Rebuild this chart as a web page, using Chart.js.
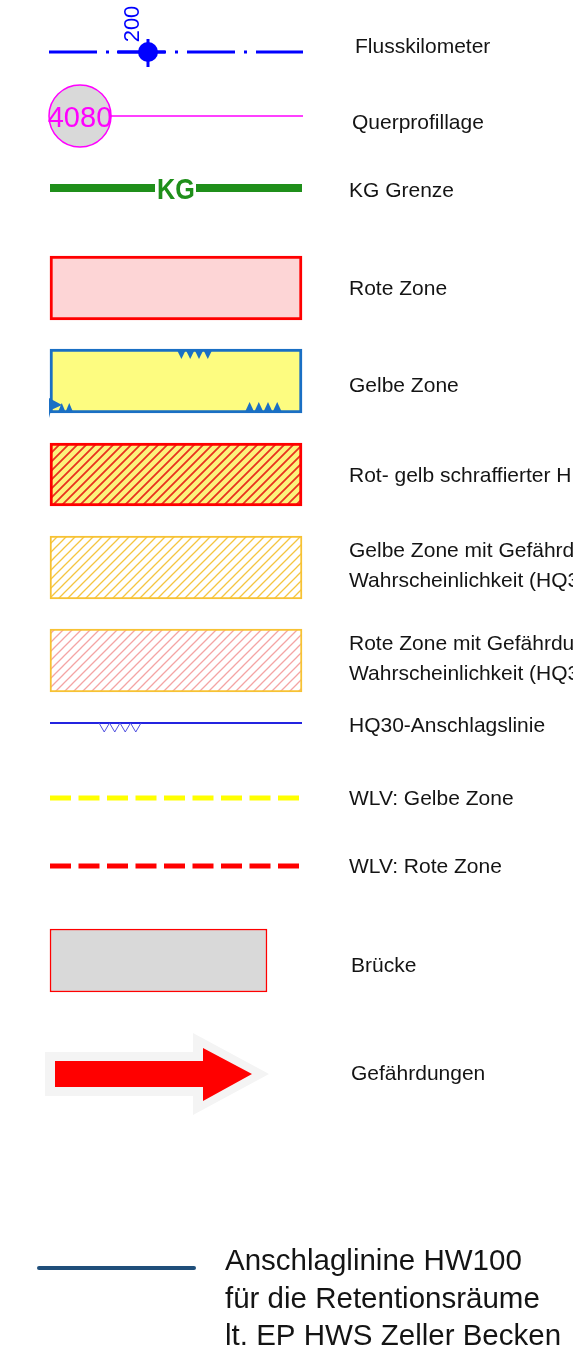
<!DOCTYPE html>
<html lang="de">
<head>
    <meta charset="UTF-8">
    <title>Legende Gefahrenzonenplan</title>
    <script src="https://cdn.jsdelivr.net/npm/chart.js"></script>
    <style>
        html, body { margin: 0; padding: 0; background: #ffffff; }
        .container { width: 573px; height: 1349px; position: relative; }
    </style>
</head>
<body>
    <div class="container">
        <canvas id="legendChart"></canvas>
    </div>

    <script>
        // Legendentexte
        const legendLabels = [
            ['Flusskilometer'],
            ['Querprofillage'],
            ['KG Grenze'],
            ['Rote Zone'],
            ['Gelbe Zone'],
            ['Rot- gelb schraffierter H'],
            ['Gelbe Zone mit Gefährd', 'Wahrscheinlichkeit (HQ3'],
            ['Rote Zone mit Gefährdu', 'Wahrscheinlichkeit (HQ3'],
            ['HQ30-Anschlagslinie'],
            ['WLV: Gelbe Zone'],
            ['WLV: Rote Zone'],
            ['Brücke'],
            ['Gefährdungen']
        ];
        const noteLines = ['Anschlaglinine HW100', 'für die Retentionsräume', 'lt. EP HWS Zeller Becken'];
        const symbolTexts = ['200', '4080', 'KG'];

        // Layout (Pixel = Achsenwerte, da die Achsen 1:1 auf die Leinwand abgebildet werden)
        const textX = [355, 352, 349, 349, 349, 349, 349, 349, 349, 349, 349, 351, 351];
        const textBase = [[53], [129], [197], [295], [392], [482], [557, 587], [650, 680], [732], [805], [873], [972], [1080]];
        const noteX = 225, noteBase = [1270, 1308, 1345];

        // Schraffur als Muster
        function hatch(bg, fg, lw, step) {
            const c = document.createElement('canvas');
            c.width = step; c.height = step;
            const g = c.getContext('2d');
            if (bg) { g.fillStyle = bg; g.fillRect(0, 0, step, step); }
            g.strokeStyle = fg;
            g.lineWidth = lw;
            g.beginPath();
            g.moveTo(0, step); g.lineTo(step, 0);
            g.moveTo(-2, 2); g.lineTo(2, -2);
            g.moveTo(step - 2, step + 2); g.lineTo(step + 2, step - 2);
            g.stroke();
            return g.createPattern(c, 'repeat');
        }

        function hLine(y, x0, x1, color, width, dash, cap) {
            return {
                type: 'line',
                data: [{x: x0, y: y}, {x: x1, y: y}],
                borderColor: color,
                borderWidth: width,
                borderDash: dash || [],
                borderCapStyle: cap || 'butt',
                pointRadius: 0,
                fill: false,
                order: 1
            };
        }

        function zone(yc, x0, x1, h, fill, stroke, bw) {
            return {
                type: 'bar',
                indexAxis: 'y',
                grouped: false,
                data: [{x: [x0, x1], y: yc}],
                backgroundColor: fill,
                borderColor: stroke,
                borderWidth: bw,
                borderSkipped: false,
                barPercentage: 1,
                categoryPercentage: 1,
                maxBarThickness: h,
                order: 2
            };
        }

        function dot(x, y, r, fill, stroke, bw) {
            return {
                type: 'line',
                showLine: false,
                data: [{x: x, y: y}],
                pointRadius: r,
                pointBackgroundColor: fill,
                pointBorderColor: stroke,
                pointBorderWidth: bw,
                order: 0
            };
        }

        const datasets = [
            dot(148, 52, 10, '#0000ff', '#0000ff', 0),
            dot(80, 116, 31, '#d9d9d9', '#ff00ff', 1.5),
            hLine(52, 49, 303, '#0000ff', 3, [48, 9, 3, 9]),
            hLine(52, 117, 165, '#0000ff', 3),
            hLine(116, 111, 303, '#ff00ff', 1.5),
            hLine(188, 50, 155, '#1f8f1a', 8),
            hLine(188, 196, 302, '#1f8f1a', 8),
            zone(288, 50, 302, 64, '#fdd5d6', '#ff0000', 3),
            zone(381, 50, 302, 64, '#fdfc80', '#1a6fc4', 3),
            zone(474.5, 50, 302, 63, hatch('#fcf37c', '#e8321e', 1.8, 9), '#ff0000', 3),
            zone(567.5, 50, 302, 63, hatch('#ffffff', '#f5c540', 1.3, 9), '#f7c233', 2),
            zone(660.5, 50, 302, 63, hatch('#ffffff', '#f4a4a4', 1.3, 9), '#f7c233', 2),
            hLine(723, 50, 302, '#2424e0', 2),
            hLine(798, 50, 302, '#ffff00', 5, [21, 7.5]),
            hLine(866, 50, 302, '#ff0000', 5, [21, 7.5]),
            zone(960.5, 50, 267, 63, '#d9d9d9', '#ff0000', 1.5),
            hLine(1268, 39, 194, '#1f4e7a', 4, [], 'round')
        ];

        // Texte und Sondersymbole
        const legendPlugin = {
            id: 'legendSymbols',
            afterDatasetsDraw(chart) {
                const ctx = chart.ctx;
                const X = v => chart.scales.x.getPixelForValue(v);
                const Y = v => chart.scales.y.getPixelForValue(v);
                const poly = (pts, color) => {
                    ctx.beginPath();
                    pts.forEach((p, i) => i ? ctx.lineTo(X(p[0]), Y(p[1])) : ctx.moveTo(X(p[0]), Y(p[1])));
                    ctx.closePath();
                    ctx.fillStyle = color;
                    ctx.fill();
                };
                ctx.save();

                // Fadenkreuz Flusskilometer
                ctx.strokeStyle = '#0000ff';
                ctx.lineWidth = 3;
                ctx.beginPath();
                ctx.moveTo(X(148), Y(39)); ctx.lineTo(X(148), Y(67));
                ctx.stroke();

                // "200" gedreht
                ctx.save();
                ctx.translate(X(132), Y(24));
                ctx.rotate(-Math.PI / 2);
                ctx.font = '22px "Liberation Sans", Arial, sans-serif';
                ctx.fillStyle = '#0000ff';
                ctx.textAlign = 'center';
                ctx.textBaseline = 'middle';
                ctx.fillText(symbolTexts[0], 0, 1);
                ctx.restore();

                // "4080"
                ctx.font = '29px "Liberation Sans", Arial, sans-serif';
                ctx.fillStyle = '#ff00ff';
                ctx.textAlign = 'center';
                ctx.textBaseline = 'alphabetic';
                ctx.fillText(symbolTexts[1], X(80), Y(127));

                // "KG"
                ctx.save();
                ctx.translate(X(176), Y(199));
                ctx.scale(0.84, 1);
                ctx.font = 'bold 30px "Liberation Sans", Arial, sans-serif';
                ctx.fillStyle = '#1f8f1a';
                ctx.fillText(symbolTexts[2], 0, 0);
                ctx.restore();

                // Zacken der gelben Zone
                const blue = '#1a6fc4';
                for (let i = 0; i < 4; i++) {
                    const a = 177 + i * 8.8;
                    poly([[a, 350], [a + 8.8, 350], [a + 4.4, 359]], blue);
                }
                for (let i = 0; i < 4; i++) {
                    const a = 245 + i * 9.2;
                    poly([[a, 412], [a + 9.2, 412], [a + 4.6, 402]], blue);
                }
                for (let i = 0; i < 2; i++) {
                    const a = 58 + i * 7.5;
                    poly([[a, 412], [a + 7.5, 412], [a + 3.75, 403]], blue);
                }
                poly([[49, 398], [62, 405], [51, 410], [49, 418]], blue);

                // Zickzack der HQ30-Linie
                ctx.strokeStyle = '#5050e0';
                ctx.lineWidth = 1;
                ctx.beginPath();
                ctx.moveTo(X(99), Y(723));
                for (let i = 0; i < 4; i++) {
                    const a = 99 + i * 10.5;
                    ctx.lineTo(X(a + 5.25), Y(732));
                    ctx.lineTo(X(a + 10.5), Y(723));
                }
                ctx.stroke();

                // Pfeil Gefährdungen
                poly([[45, 1052], [193, 1052], [193, 1033], [269, 1074], [193, 1115], [193, 1096], [45, 1096]], '#f4f4f4');
                poly([[55, 1061], [203, 1061], [203, 1048], [252, 1074], [203, 1101], [203, 1087], [55, 1087]], '#ff0000');

                // Beschriftungen
                ctx.fillStyle = '#141414';
                ctx.textAlign = 'left';
                ctx.textBaseline = 'alphabetic';
                ctx.font = '21px "Liberation Sans", Arial, sans-serif';
                legendLabels.forEach((lines, i) => {
                    lines.forEach((t, j) => ctx.fillText(t, X(textX[i]), Y(textBase[i][j])));
                });
                ctx.font = '29.5px "Liberation Sans", Arial, sans-serif';
                noteLines.forEach((t, j) => ctx.fillText(t, X(noteX), Y(noteBase[j])));

                ctx.restore();
            }
        };

        new Chart(document.getElementById('legendChart'), {
            type: 'bar',
            data: { datasets: datasets },
            options: {
                responsive: true,
                maintainAspectRatio: false,
                animation: false,
                events: [],
                layout: { padding: 0, autoPadding: false },
                scales: {
                    x: { type: 'linear', min: 0, max: 573, offset: false, grace: 0, display: false },
                    y: { type: 'linear', min: 0, max: 1349, reverse: true, offset: false, grace: 0, display: false }
                },
                plugins: {
                    legend: { display: false },
                    tooltip: { enabled: false }
                }
            },
            plugins: [legendPlugin]
        });
    </script>
</body>
</html>
